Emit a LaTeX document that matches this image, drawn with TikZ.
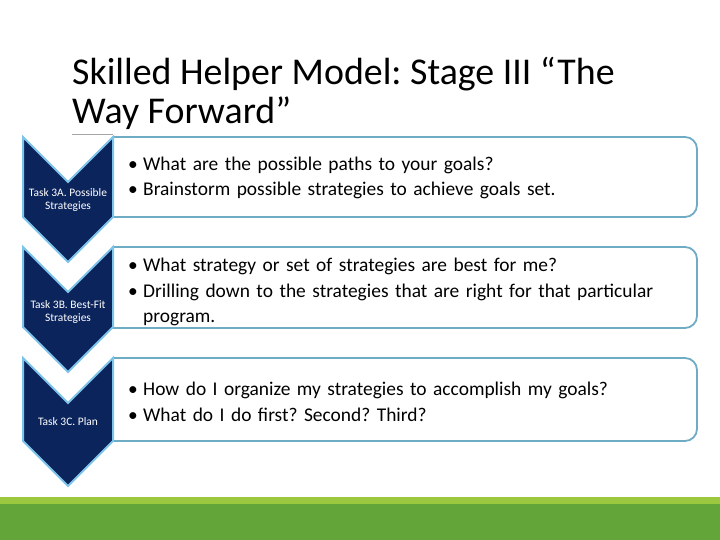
\documentclass[tikz,border=0pt]{standalone}
\usepackage{fontspec}
\setmainfont{Carlito}
\frenchspacing
\definecolor{navy}{RGB}{12,36,92}
\definecolor{chevblue}{RGB}{125,196,234}
\definecolor{boxblue}{RGB}{110,172,196}
\definecolor{rulegray}{RGB}{165,165,165}
\definecolor{barlight}{RGB}{155,200,62}
\definecolor{bardark}{RGB}{99,165,56}
\newcommand{\bul}[1]{\hangindent=15bp\hangafter=1\noindent\makebox[15bp][l]{•}#1\par}

\begin{document}
\begin{tikzpicture}[x=1bp,y=1bp]
  \tikzset{
    chev/.style={fill=navy, draw=chevblue, line width=2bp, line join=miter},
    stagebox/.style={draw=boxblue, line width=1.8bp, fill=white},
    tasklabel/.style={text=white, font=\fontsize{11.5}{13.5}\selectfont, align=center, inner sep=0pt},
    bullets/.style={anchor=west, text width=550bp, font=\fontsize{19.5}{25.5}\selectfont\raggedright, inner sep=0pt}
  }
  \useasboundingbox (0,0) rectangle (720,540);
  % footer bar
  \fill [bardark] (0,0) rectangle (720,36);
  \fill [barlight] (0,36) rectangle (720,43);
  % title
  \node [anchor=base west, align=left, inner sep=0pt, font=\fontsize{38}{40}\selectfont] (title) at (72,416) {Skilled Helper Model: Stage III “The\\Way Forward”};
  \draw [rulegray, line width=1bp] (72,405) -- (113,405);

  % boxes
  \draw [stagebox] (113,323) -- (113,403) -- (685,403) arc [start angle=90, end angle=0, radius=12] -- (697,335) arc [start angle=0, end angle=-90, radius=12] -- cycle;
  \draw [stagebox] (113,212) -- (113,293) -- (685,293) arc [start angle=90, end angle=0, radius=12] -- (697,224) arc [start angle=0, end angle=-90, radius=12] -- cycle;
  \draw [stagebox] (113,99) -- (113,182) -- (685,182) arc [start angle=90, end angle=0, radius=12] -- (697,111) arc [start angle=0, end angle=-90, radius=12] -- cycle;

  % chevrons
  \draw [chev] (23,403) -- (68,358) -- (113,403) -- (113,323) -- (68,278) -- (23,323) -- cycle;
  \draw [chev] (23,293) -- (68,248) -- (113,293) -- (113,213) -- (68,168) -- (23,213) -- cycle;
  \draw [chev] (23,182) -- (68,137) -- (113,182) -- (113,99) -- (68,54) -- (23,99) -- cycle;

  \node [tasklabel] (t3a) at (68,340) {Task 3A. Possible\\Strategies};
  \node [tasklabel] (t3b) at (68,228) {Task 3B. Best-Fit\\Strategies};
  \node [tasklabel] (t3c) at (68,118) {Task 3C. Plan};

  \node [bullets] (b3a) at (128,362) {\bul{What are the possible paths to your goals?}\bul{Brainstorm possible strategies to achieve goals set.}};
  \node [bullets] (b3b) at (128,248) {\bul{What strategy or set of strategies are best for me?}\bul{Drilling down to the strategies that are right for that particular program.}};
  \node [bullets] (b3c) at (128,138) {\bul{How do I organize my strategies to accomplish my goals?}\bul{What do I do first? Second? Third?}};
\end{tikzpicture}
\end{document}
